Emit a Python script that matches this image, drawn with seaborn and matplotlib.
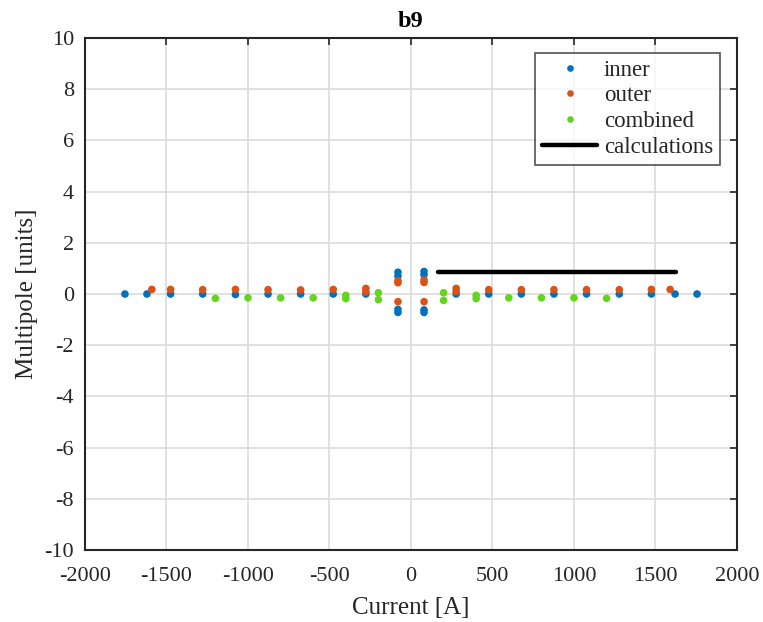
import numpy as np
import pandas as pd
import matplotlib
matplotlib.use("Agg")
import matplotlib.pyplot as plt
import seaborn as sns
from matplotlib.lines import Line2D

# ---- data ----
inner_current = [-1755, -1620, -1475, -1278, -1077, -877, -677, -477, -277,
                 -80, -80, -80, -80,
                 80, 80, 80, 80,
                 277, 477, 677, 877, 1077, 1278, 1475, 1620, 1755]
inner_value = [0.0, 0.0, 0.0, 0.0, -0.02, 0.0, 0.0, 0.0, 0.0,
               0.85, 0.7, -0.6, -0.72,
               0.88, 0.75, -0.62, -0.72,
               0.0, 0.0, 0.0, 0.0, 0.0, 0.0, 0.0, 0.0, 0.0]

outer_current = [-1590, -1475, -1278, -1077, -877, -677, -477, -277, -277,
                 -80, -80, -80,
                 80, 80, 80,
                 277, 277, 477, 677, 877, 1077, 1278, 1475, 1590]
outer_value = [0.18, 0.18, 0.17, 0.18, 0.17, 0.16, 0.18, 0.22, 0.08,
               0.52, 0.44, -0.3,
               0.55, 0.45, -0.3,
               0.22, 0.1, 0.17, 0.17, 0.17, 0.17, 0.17, 0.18, 0.18]

combined_current = [-1200, -1000, -800, -600, -400, -400, -200, -200,
                    200, 200, 400, 400, 600, 800, 1000, 1200]
combined_value = [-0.17, -0.15, -0.15, -0.15, -0.05, -0.18, 0.05, -0.22,
                  0.05, -0.25, -0.05, -0.18, -0.15, -0.15, -0.15, -0.17]

calc_current = [165, 1625]
calc_value = [0.87, 0.87]

series_names = ["inner", "outer", "combined"]
colors = {"inner": "#0072BD", "outer": "#D95319", "combined": "#62D51C"}

df = pd.concat([
    pd.DataFrame({"Current": inner_current, "Value": inner_value, "series": "inner"}),
    pd.DataFrame({"Current": outer_current, "Value": outer_value, "series": "outer"}),
    pd.DataFrame({"Current": combined_current, "Value": combined_value, "series": "combined"}),
], ignore_index=True)

sns.set_style("white")
plt.rcParams["font.family"] = ["Liberation Serif", "DejaVu Serif"]
plt.rcParams["axes.unicode_minus"] = False

fig = plt.figure(figsize=(7.63, 6.22), dpi=100)
ax = fig.add_axes([0.1114, 0.1158, 0.8545, 0.823])

sns.scatterplot(data=df, x="Current", y="Value", hue="series", hue_order=series_names,
                palette=colors, s=30, linewidth=0, ax=ax, legend=False, zorder=3)
sns.lineplot(x=calc_current, y=calc_value, color="black", linewidth=3.2, ax=ax, zorder=4)

ax.set_xlim(-2000, 2000)
ax.set_ylim(-10, 10)
ax.set_xticks(np.arange(-2000, 2001, 500))
ax.set_yticks(np.arange(-10, 11, 2))
ax.grid(True, color="#dcdcdc", linewidth=1.2)
ax.set_axisbelow(True)
for sp in ax.spines.values():
    sp.set_color("#262626")
    sp.set_linewidth(1.5)
ax.tick_params(direction="in", length=5, width=1.2, color="#262626",
               labelsize=16, labelcolor="#262626", top=True, right=True)
ax.tick_params(axis="x", pad=12)
ax.tick_params(axis="y", pad=8)

ax.set_xlabel("Current [A]", fontsize=18, color="#262626", labelpad=8)
ax.set_ylabel("Multipole [units]", fontsize=18, color="#262626", labelpad=4.5)
ax.set_title("b9", fontsize=17.5, fontweight="bold", color="black", pad=8)

handles = [Line2D([], [], marker="o", linestyle="none", color=colors[n],
                  markersize=4.8, markeredgewidth=0) for n in series_names]
handles.append(Line2D([], [], color="black", linewidth=3.2))
leg = ax.legend(handles, series_names + ["calculations"], loc="upper right",
                bbox_to_anchor=(0.974, 0.971), fontsize=16.5, frameon=True,
                fancybox=False, edgecolor="#262626", handlelength=2.4,
                handletextpad=0.3, borderpad=0.3, labelspacing=0.2,
                borderaxespad=0)
leg.get_frame().set_linewidth(1.2)
for t in leg.get_texts():
    t.set_color("#262626")

fig.savefig("out.png", dpi=100)
